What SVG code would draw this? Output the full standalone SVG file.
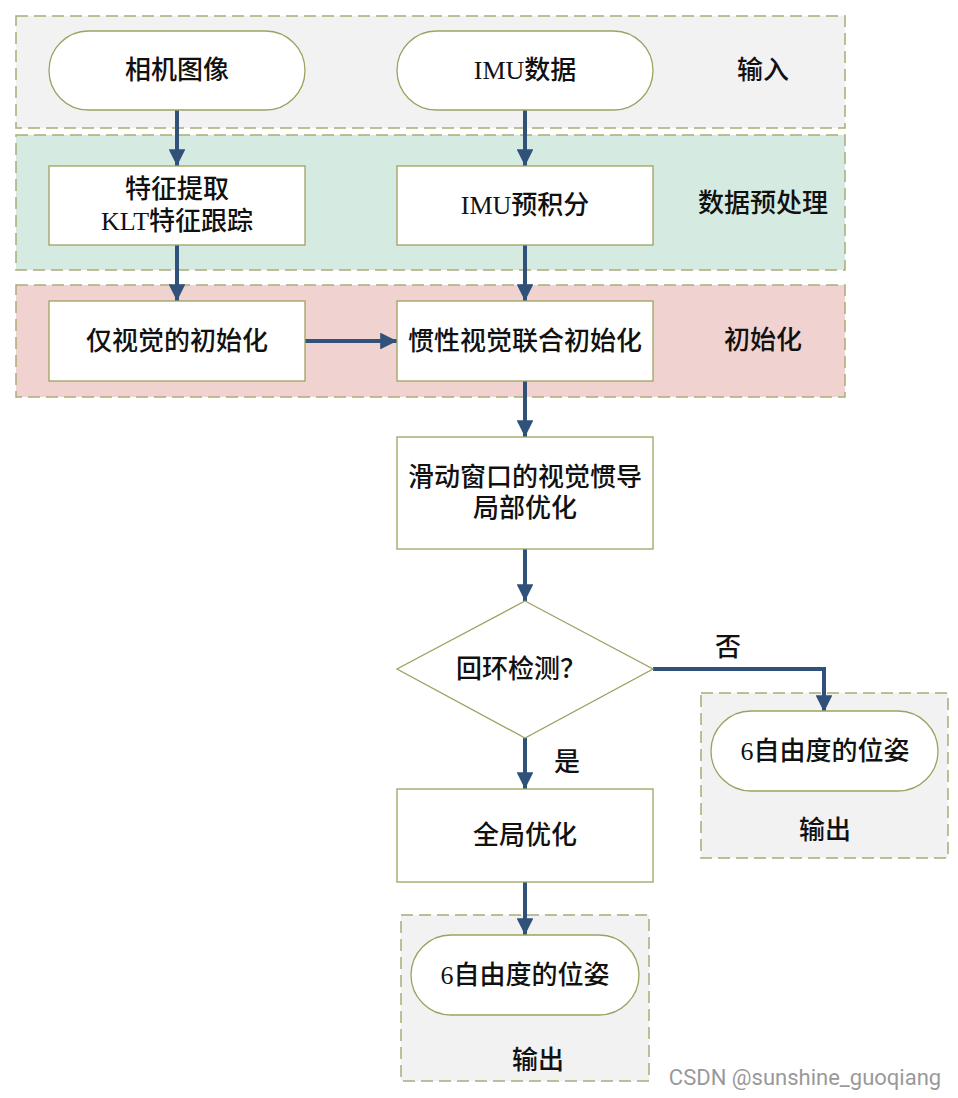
<svg xmlns="http://www.w3.org/2000/svg" width="958" height="1098" viewBox="0 0 958 1098">
<style>
.band{stroke:#a8ad78;stroke-width:1.5;stroke-dasharray:12,6}
.node{fill:#fff;stroke:#9ea160;stroke-width:1.3}
.t{font-family:"Liberation Serif","Noto Sans CJK SC",serif;font-size:26px;fill:#111;text-anchor:middle;dominant-baseline:central;font-weight:500}
.lbl{font-family:"Liberation Serif","Noto Sans CJK SC",serif;font-size:26px;fill:#111;text-anchor:middle;dominant-baseline:central;font-weight:500}
.c{fill:none;stroke:#30527a;stroke-width:4}
</style>
<defs>
<marker id="ah" viewBox="0 0 10 10" refX="10" refY="5" markerWidth="4.2" markerHeight="4.2" orient="auto" markerUnits="strokeWidth">
<path d="M0,0 L10,5 L0,10 z" fill="#30527a"/>
</marker>
</defs>
<rect width="958" height="1098" fill="#fff"/>
<g id="bands">
<rect class="band" x="16" y="16" width="829" height="112" fill="#f2f2f2"/>
<rect class="band" x="16" y="135" width="829" height="135" fill="#d5ebe1"/>
<rect class="band" x="16" y="285" width="829" height="112" fill="#f0d3d0"/>
<rect class="band" x="701" y="693" width="247" height="165" fill="#f2f2f2"/>
<rect class="band" x="401" y="915" width="248" height="166" fill="#f2f2f2"/>
</g>
<g id="band-labels">
<text class="lbl" x="763" y="70">输入</text>
<text class="lbl" x="763" y="203">数据预处理</text>
<text class="lbl" x="763" y="340">初始化</text>
<text class="lbl" x="825" y="830">输出</text>
<text class="lbl" x="538" y="1060">输出</text>
</g>
<g id="connectors">
<line class="c" x1="177" y1="110" x2="177" y2="166" marker-end="url(#ah)"/>
<line class="c" x1="525" y1="110" x2="525" y2="166" marker-end="url(#ah)"/>
<line class="c" x1="177" y1="245" x2="177" y2="301" marker-end="url(#ah)"/>
<line class="c" x1="525" y1="245" x2="525" y2="301" marker-end="url(#ah)"/>
<line class="c" x1="305" y1="341" x2="397" y2="341" marker-end="url(#ah)"/>
<line class="c" x1="525" y1="381" x2="525" y2="437" marker-end="url(#ah)"/>
<line class="c" x1="525" y1="549" x2="525" y2="601" marker-end="url(#ah)"/>
<polyline class="c" points="653,669 824,669 824,712" marker-end="url(#ah)"/>
<line class="c" x1="525" y1="738" x2="525" y2="789" marker-end="url(#ah)"/>
<line class="c" x1="525" y1="882" x2="525" y2="935" marker-end="url(#ah)"/>
<text class="lbl" x="728" y="647">否</text>
<text class="lbl" x="567" y="762">是</text>
</g>
<g id="n-camera"><rect class="node" x="49" y="31" width="256" height="79" rx="39.5"/><text class="t" x="177" y="70">相机图像</text></g>
<g id="n-imu"><rect class="node" x="397" y="31" width="256" height="79" rx="39.5"/><text class="t" x="525" y="70">IMU数据</text></g>
<g id="n-feature"><rect class="node" x="49" y="166" width="256" height="79"/><text class="t" x="177" y="189">特征提取</text><text class="t" x="177" y="221">KLT特征跟踪</text></g>
<g id="n-preint"><rect class="node" x="397" y="166" width="256" height="79"/><text class="t" x="525" y="205">IMU预积分</text></g>
<g id="n-visinit"><rect class="node" x="49" y="301" width="256" height="80"/><text class="t" x="177" y="341">仅视觉的初始化</text></g>
<g id="n-viinit"><rect class="node" x="397" y="301" width="256" height="80"/><text class="t" x="525" y="341">惯性视觉联合初始化</text></g>
<g id="n-local"><rect class="node" x="397" y="437" width="256" height="112"/><text class="t" x="525" y="477">滑动窗口的视觉惯导</text><text class="t" x="525" y="508">局部优化</text></g>
<g id="n-loop"><polygon class="node" points="525,601 653,669 525,738 397,669"/><text class="t" x="521" y="669">回环检测？</text></g>
<g id="n-out1"><rect class="node" x="711" y="711" width="227" height="80" rx="40"/><text class="t" x="825" y="751">6自由度的位姿</text></g>
<g id="n-global"><rect class="node" x="397" y="789" width="256" height="93"/><text class="t" x="525" y="835">全局优化</text></g>
<g id="n-out2"><rect class="node" x="411" y="935" width="228" height="80" rx="40"/><text class="t" x="525" y="975">6自由度的位姿</text></g>
<text x="805" y="1077" font-family="Roboto,'Liberation Sans',sans-serif" font-size="22" fill="#999" text-anchor="middle" dominant-baseline="central">CSDN @sunshine_guoqiang</text>
</svg>
